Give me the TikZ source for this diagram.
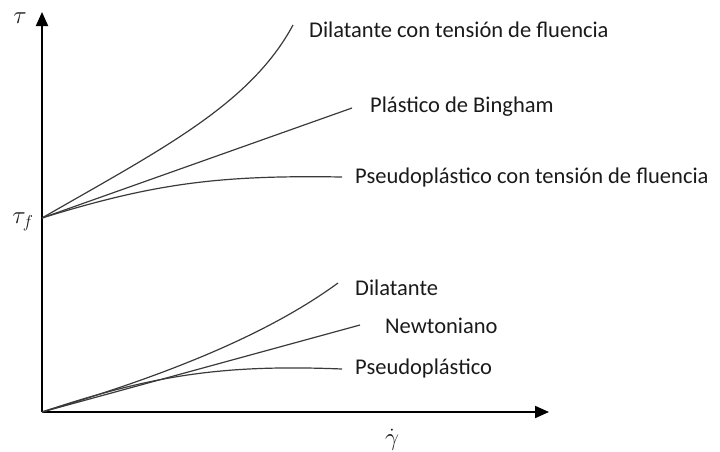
\documentclass[tikz,border=0pt]{standalone}
\usepackage{fontspec}
\setmainfont{Carlito}
\usetikzlibrary{arrows.meta}
\definecolor{txt}{HTML}{1A1A1A}
\definecolor{crv}{HTML}{3A3A3A}
\begin{document}
\begin{tikzpicture}[x=1pt,y=-1pt,
  axis/.style={line width=2pt,black,-{Triangle[length=14pt,width=12pt]}},
  curve/.style={line width=1.2pt,crv},
  lbl/.style={anchor=west,inner sep=0pt,text=txt,font=\fontsize{22.5}{24}\selectfont},
  sym/.style={inner sep=0pt,text=txt,font=\fontsize{26}{28}\selectfont}]
\useasboundingbox (0,0) rectangle (720,451);
\coordinate (O) at (42,412);
\coordinate (ytop) at (42,12);
\coordinate (xend) at (549,412);
\coordinate (tf) at (42,218);
\draw[axis] (O) -- (ytop);
\draw[axis] (O) -- (xend);
\node[sym] (tau) at (20,18) {$\tau$};
\node[sym] (tauf) at (23,222) {$\tau_f$};
\node[sym] (gam) at (392,440) {$\dot\gamma$};
% labels
\node[lbl] (l1) at (309,30) {Dilatante con tensión de fluencia};
\node[lbl] (l2) at (370,107) {Plástico de Bingham};
\node[lbl] (l3) at (355,177) {Pseudoplástico con tensión de fluencia};
\node[lbl] (l4) at (355,288) {Dilatante};
\node[lbl] (l5) at (385,326) {Newtoniano};
\node[lbl] (l6) at (355,368) {Pseudoplástico};
% curve end points
\coordinate (e1) at (293,25);
\coordinate (e2) at (352,108);
\coordinate (e3) at (342,177);
\coordinate (e4) at (338,283);
\coordinate (e5) at (360,325);
\coordinate (e6) at (342,369);
\draw[curve] (tf) .. controls (160,150) and (250,105) .. (e1);
\draw[curve] (tf) -- (e2);
\draw[curve] (tf) .. controls (155,183) and (220,175) .. (e3);
\draw[curve] (O) .. controls (150,380) and (260,340) .. (e4);
\draw[curve] (O) -- (e5);
\draw[curve] (O) .. controls (150,376) and (220,364) .. (e6);
\end{tikzpicture}
\end{document}
